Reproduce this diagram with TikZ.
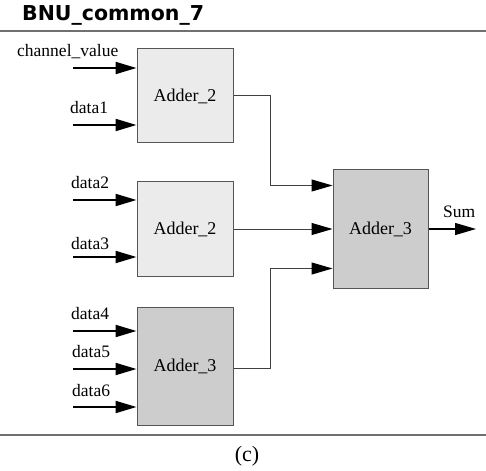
\documentclass[tikz,border=0pt]{standalone}
\usepackage{fontspec}
\setmainfont{Liberation Serif}
\newfontfamily\titlefont{DejaVu Sans}
\usetikzlibrary{arrows.meta}
\definecolor{lightbox}{HTML}{EBEBEB}
\definecolor{darkbox}{HTML}{CDCDCD}
\definecolor{edgegray}{HTML}{555555}
\definecolor{rulegray}{HTML}{707070}
\begin{document}
\begin{tikzpicture}[x=1pt,y=-1pt,
  adder/.style={draw=edgegray,line width=1pt,minimum width=96pt,inner sep=0pt,font=\fontsize{18}{21}\selectfont},
  lbl/.style={inner sep=0pt,anchor=base west,font=\fontsize{17.5}{21}\selectfont},
  inarrow/.style={line width=2pt,-{Triangle[length=21pt,width=12pt]}},
  conn/.style={line width=1pt,draw=black!75,-{Triangle[length=21pt,width=12pt,color=black,fill=black]}}]
\useasboundingbox (0,0) rectangle (486,470);
% title and rules
\node[inner sep=0pt,anchor=base west,font=\titlefont\bfseries\fontsize{20.5}{24}\selectfont] (title) at (22,21) {BNU\_common\_7};
\coordinate (tl) at (0,31);
\coordinate (tr) at (486,31);
\draw[rulegray,line width=1.6pt] (tl) -- (tr);
\coordinate (bl) at (0,435);
\coordinate (br) at (486,435);
\draw[rulegray,line width=1.6pt] (bl) -- (br);
\node[inner sep=0pt,anchor=base,font=\fontsize{22}{26}\selectfont] (cap) at (247,461) {(c)};
% boxes
\node[adder,fill=lightbox,minimum height=94pt] (b1) at (185,96) {Adder\_2};
\node[adder,fill=lightbox,minimum height=94pt] (b2) at (185,229) {Adder\_2};
\node[adder,fill=darkbox,minimum height=118pt,minimum width=95pt] (b3) at (380.5,229) {Adder\_3};
\node[adder,fill=darkbox,minimum height=118pt] (b4) at (185,366) {Adder\_3};
% input coordinates
\coordinate (c1) at (73,68);
\coordinate (c2) at (73,125);
\coordinate (c3) at (73,200);
\coordinate (c4) at (73,257);
\coordinate (c5) at (73,331);
\coordinate (c6) at (73,369);
\coordinate (c7) at (73,407);
\draw[inarrow] (c1) -- (c1 -| b1.west);
\draw[inarrow] (c2) -- (c2 -| b1.west);
\draw[inarrow] (c3) -- (c3 -| b2.west);
\draw[inarrow] (c4) -- (c4 -| b2.west);
\draw[inarrow] (c5) -- (c5 -| b4.west);
\draw[inarrow] (c6) -- (c6 -| b4.west);
\draw[inarrow] (c7) -- (c7 -| b4.west);
% labels
\node[lbl] (l1) at (17,57) {channel\_value};
\node[lbl] (l2) at (70,114) {data1};
\node[lbl] (l3) at (71,189) {data2};
\node[lbl] (l4) at (71,249) {data3};
\node[lbl] (l5) at (71,319) {data4};
\node[lbl] (l6) at (72,357) {data5};
\node[lbl] (l7) at (72,396) {data6};
% connectors
\draw[conn] (b1.east) -- ++(37,0) |- ([yshift=-16pt]b3.north west);
\draw[conn] (b2.east) -- (b2.east -| b3.west);
\draw[conn] ([yshift=-2pt]b4.east) -- ++(37,0) |- ([yshift=20pt]b3.south west);
% output
\coordinate (out) at (476,229);
\draw[inarrow,line width=1.2pt] (b3.east) -- (out);
\node[lbl] (sum) at (443,217) {Sum};
\end{tikzpicture}
\end{document}
